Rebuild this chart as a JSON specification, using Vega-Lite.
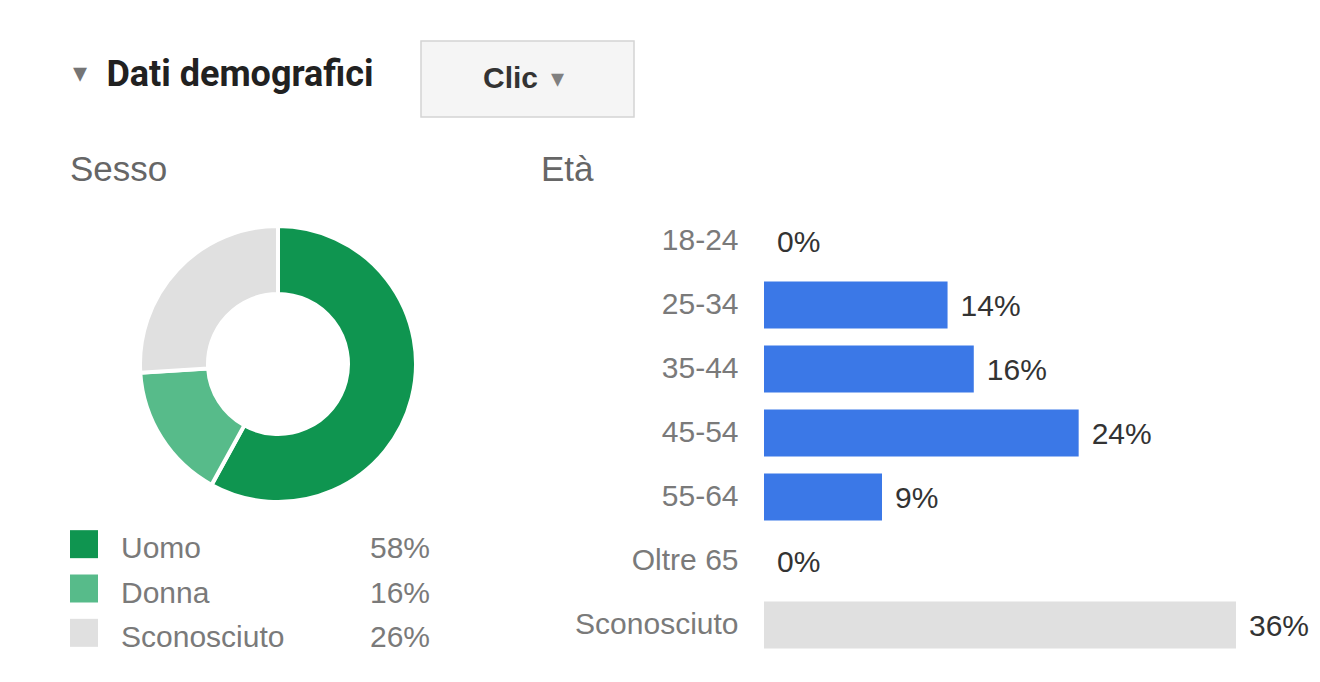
{
  "$schema": "https://vega.github.io/schema/vega-lite/v6.json",
  "background": "white",
  "padding": {"left": 70, "top": 40, "right": 0, "bottom": 0},
  "config": {
    "view": {"stroke": null},
    "font": "Liberation Sans",
    "concat": {"spacing": 20}
  },
  "datasets": {
    "intestazione": [{"titolo": "Dati demografici", "pulsante": "Clic"}],
    "sesso": [
      {"sesso": "Uomo", "pct": 0.58, "ordine": 1},
      {"sesso": "Donna", "pct": 0.16, "ordine": 2},
      {"sesso": "Sconosciuto", "pct": 0.26, "ordine": 3}
    ],
    "eta": [
      {"eta": "18-24", "pct": 0.0},
      {"eta": "25-34", "pct": 0.14},
      {"eta": "35-44", "pct": 0.16},
      {"eta": "45-54", "pct": 0.24},
      {"eta": "55-64", "pct": 0.09},
      {"eta": "Oltre 65", "pct": 0.0},
      {"eta": "Sconosciuto", "pct": 0.36}
    ]
  },
  "spacing": 35,
  "vconcat": [
    {
      "spacing": 0,
      "hconcat": [
        {
          "width": 350,
          "height": 76,
          "data": {"name": "intestazione"},
          "layer": [
            {
              "mark": {"type": "text", "text": "▾", "font": "DejaVu Sans", "fontSize": 28, "color": "#757575", "align": "center", "baseline": "middle", "dx": -165, "dy": -5},
              "encoding": {}
            },
            {
              "mark": {"type": "text", "font": "Roboto", "fontSize": 36, "fontWeight": "bold", "color": "#212121", "align": "center", "baseline": "middle", "dx": -5, "dy": -4},
              "encoding": {"text": {"field": "titolo", "type": "nominal"}}
            }
          ]
        },
        {
          "width": 213,
          "height": 76,
          "data": {"name": "intestazione"},
          "view": {"fill": "#f5f5f5", "stroke": "#d4d4d4", "strokeWidth": 1.5},
          "layer": [
            {
              "mark": {"type": "text", "font": "Liberation Sans", "fontSize": 30, "fontWeight": "bold", "color": "#333333", "align": "center", "baseline": "middle", "dx": -17},
              "encoding": {"text": {"field": "pulsante", "type": "nominal"}}
            },
            {
              "mark": {"type": "text", "text": "▾", "font": "DejaVu Sans", "fontSize": 26, "color": "#808080", "align": "center", "baseline": "middle", "dx": 30},
              "encoding": {}
            }
          ]
        }
      ]
    },
    {
      "spacing": 55,
      "hconcat": [
        {
          "spacing": 3,
          "vconcat": [
            {
              "width": 416,
              "height": 310,
              "data": {"name": "sesso"},
              "title": {
                "text": "Sesso",
                "anchor": "start",
                "frame": "group",
                "baseline": "alphabetic",
                "offset": -7,
                "font": "Liberation Sans",
                "fontSize": 35,
                "fontWeight": "normal",
                "color": "#666666"
              },
              "mark": {"type": "arc", "innerRadius": 70, "outerRadius": 138, "stroke": "white", "strokeWidth": 4},
              "encoding": {
                "theta": {"field": "pct", "type": "quantitative", "stack": true},
                "order": {"field": "ordine", "type": "quantitative"},
                "color": {
                  "field": "sesso",
                  "type": "nominal",
                  "scale": {"domain": ["Uomo", "Donna", "Sconosciuto"], "range": ["#0f9550", "#57bb8a", "#e0e0e0"]},
                  "legend": null
                }
              }
            },
            {
              "width": 360,
              "height": 133,
              "data": {"name": "sesso"},
              "encoding": {
                "y": {"field": "sesso", "type": "nominal", "sort": {"field": "ordine"}, "axis": null}
              },
              "layer": [
                {
                  "mark": {"type": "square", "size": 784, "filled": true, "opacity": 1, "xOffset": -166},
                  "encoding": {
                    "color": {
                      "field": "sesso",
                      "type": "nominal",
                      "scale": {"domain": ["Uomo", "Donna", "Sconosciuto"], "range": ["#0f9550", "#57bb8a", "#e0e0e0"]},
                      "legend": null
                    }
                  }
                },
                {
                  "mark": {"type": "text", "align": "left", "baseline": "middle", "dx": -129, "dy": 5, "fontSize": 30, "color": "#7a7a7a"},
                  "encoding": {"text": {"field": "sesso", "type": "nominal"}}
                },
                {
                  "mark": {"type": "text", "align": "right", "baseline": "middle", "dx": 180, "dy": 5, "fontSize": 30, "color": "#7a7a7a"},
                  "encoding": {"text": {"field": "pct", "type": "quantitative", "format": ".0%"}}
                }
              ]
            }
          ]
        },
        {
          "width": 472,
          "height": 448,
          "data": {"name": "eta"},
          "title": {
            "text": "Età",
            "anchor": "start",
            "frame": "group",
            "baseline": "alphabetic",
            "offset": -7,
            "dx": -223,
            "font": "Liberation Sans",
            "fontSize": 35,
            "fontWeight": "normal",
            "color": "#666666"
          },
          "encoding": {
            "y": {
              "field": "eta",
              "type": "nominal",
              "sort": null,
              "scale": {"paddingInner": 0.266, "paddingOuter": 0.133},
              "axis": {"title": null, "ticks": false, "domain": false, "grid": false, "labelPadding": 26, "labelFontSize": 30, "labelColor": "#7a7a7a", "labelFont": "Liberation Sans"}
            },
            "x": {"field": "pct", "type": "quantitative", "scale": {"domain": [0, 0.36], "nice": false}, "axis": null}
          },
          "layer": [
            {
              "mark": {"type": "bar"},
              "encoding": {
                "color": {"condition": {"test": "datum.eta === 'Sconosciuto'", "value": "#e0e0e0"}, "value": "#3b78e7"}
              }
            },
            {
              "mark": {"type": "text", "align": "left", "baseline": "middle", "dx": 13, "dy": 2, "fontSize": 30, "color": "#333333"},
              "encoding": {"text": {"field": "pct", "type": "quantitative", "format": ".0%"}}
            }
          ]
        }
      ]
    }
  ]
}
